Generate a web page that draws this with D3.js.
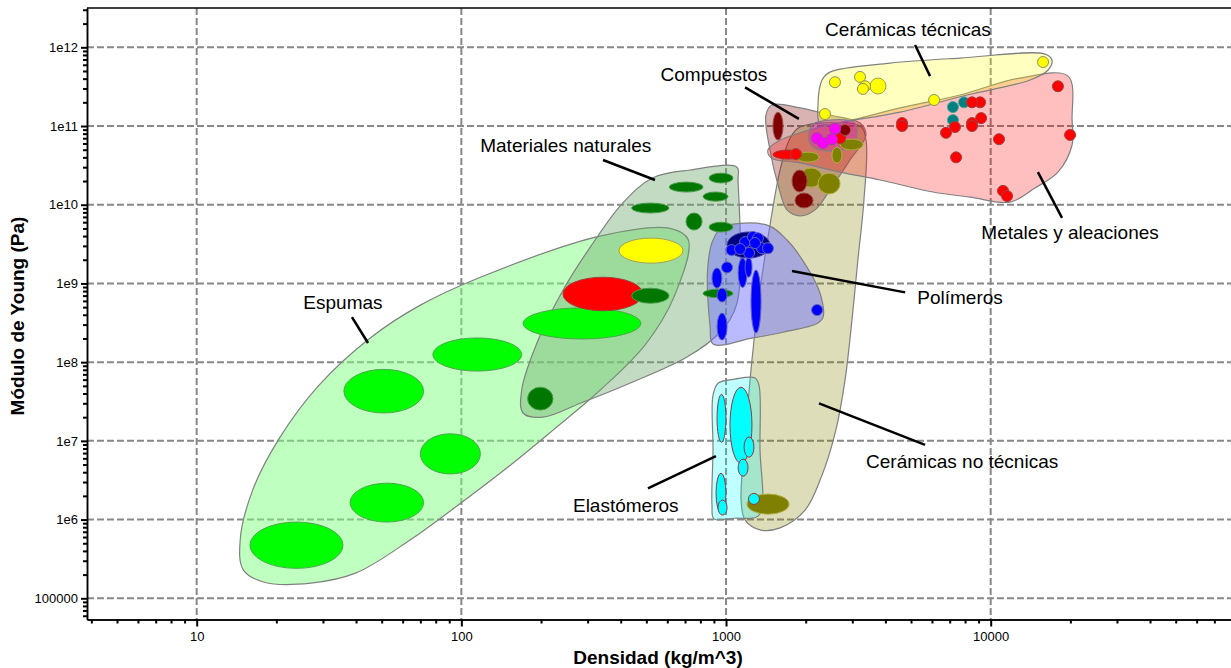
<!DOCTYPE html>
<html>
<head>
<meta charset="utf-8">
<script src="https://cdn.jsdelivr.net/npm/d3@7"></script>
<style>
  body { margin: 0; background: #fff; }
  svg { display: block; font-family: "Liberation Sans", Arial, sans-serif; }
  .grid line { stroke: #888; stroke-width: 2; stroke-dasharray: 7,3; }
  .envelope { stroke: #808080; stroke-width: 1.2; }
  .blob { stroke-width: 1; }
  .label { font-size: 19px; fill: #000; }
  .leader { stroke: #000; stroke-width: 2.5; }
  .axis-title { font-size: 19px; font-weight: bold; }
  .tick text { font-size: 13px; fill: #000; font-family: "Liberation Sans", Arial, sans-serif; }
  .tick line { stroke: #000; stroke-width: 2; }
  .domain { stroke: #000; stroke-width: 1.5; }
</style>
</head>
<body>
<div id="wrapper"></div>
<script>

// axis ticks
const densityTicks = [10, 100, 1000, 10000]
const densityTickLabels = ["10", "100", "1000", "10000"]
const modulusTicks = [1e5, 1e6, 1e7, 1e8, 1e9, 1e10, 1e11, 1e12]
const modulusTickLabels = ["100000", "1e6", "1e7", "1e8", "1e9", "1e10", "1e11", "1e12"]

// family envelopes: [density (kg/m^3), Young's modulus (Pa)]
const espumasEnvelope = [[720, 3.6e9], [615, 5.0e9], [334, 4.0e9], [118, 1.2e9], [70, 5.3e8], [45, 2.0e8], [29, 5.1e7], [20.6, 1.1e7], [16.3, 2.4e6], [14.6, 5.5e5], [15, 2.3e5], [18, 1.6e5], [27, 1.56e5], [40, 2.1e5], [64, 5.5e5], [99, 1.6e6], [153, 4.9e6], [222, 1.37e7], [334, 4.4e7], [494, 1.65e8], [640, 7.1e8]]
const naturalesEnvelope = [[1100, 3.0e10], [731, 2.76e10], [529, 2.2e10], [407, 1.05e10], [307, 2.9e9], [242, 8.2e8], [193, 1.75e8], [169, 4.4e7], [171, 2.26e7], [203, 2.0e7], [281, 3.0e7], [433, 5.4e7], [712, 1.16e8], [949, 2.4e8], [1100, 5.6e8], [1110, 2.06e10]]
const polimerosEnvelope = [[893, 3.56e9], [974, 5.2e9], [1430, 5.5e9], [1700, 3.56e9], [2025, 1.6e9], [2266, 7.5e8], [2325, 3.7e8], [2208, 3.1e8], [1640, 2.4e8], [1264, 2.03e8], [893, 1.7e8], [871, 2.8e8], [853, 1.6e9]]
const noTecnicasEnvelope = [[1905, 9.7e10], [3209, 1.0e11], [3380, 6.6e10], [3320, 1.15e10], [3150, 2.0e9], [2990, 3.4e8], [2816, 5.9e7], [2600, 1.37e7], [2305, 3.67e6], [1990, 1.32e6], [1600, 7.85e5], [1344, 7.4e5], [1180, 9.9e5], [1140, 1.77e6], [1180, 1.02e7], [1253, 1.06e8], [1344, 8.2e8], [1466, 5.5e9], [1600, 2.76e10], [1746, 7.0e10]]
const elastomerosEnvelope = [[893, 3.8e7], [933, 5.4e7], [1081, 6.1e7], [1287, 6.3e7], [1332, 5.1e7], [1344, 7.6e6], [1367, 1.32e6], [1298, 1.07e6], [1081, 1.04e6], [901, 1.02e6], [885, 1.53e6], [893, 7.6e6]]
const compuestosEnvelope = [[1490, 1.85e11], [1905, 1.7e11], [2470, 1.38e11], [3209, 1.09e11], [3380, 7.7e10], [2940, 3.7e10], [2470, 1.54e10], [2170, 8.6e9], [1905, 7.2e9], [1700, 8.6e9], [1573, 1.78e10], [1466, 4.96e10], [1415, 1.38e11]]
const metalesEnvelope = [[1440, 4.96e10], [1600, 6.6e10], [2266, 9.7e10], [3209, 1.26e11], [4546, 1.7e11], [7660, 2.48e11], [12900, 4.07e11], [19600, 4.3e11], [20300, 1.19e11], [20300, 5.74e10], [17950, 2.6e10], [14700, 1.63e10], [11840, 1.08e10], [8360, 1.25e10], [6050, 1.45e10], [3820, 2.06e10], [2700, 2.6e10], [1905, 3.4e10], [1490, 3.9e10]]
const tecnicasEnvelope = [[2305, 3.84e11], [2470, 4.84e11], [4170, 6.3e11], [7660, 7.3e11], [16050, 8.2e11], [17040, 6.9e11], [16480, 5.15e11], [14080, 3.84e11], [8145, 2.48e11], [4546, 1.5e11], [3018, 1.19e11], [2266, 1.09e11], [2226, 1.85e11]]
const magentaEnvelope = [[2113, 1.03e11], [2472, 1.19e11], [3070, 1.09e11], [3125, 7.7e10], [2990, 5.4e10], [2266, 4.96e10], [2070, 6.1e10]]

// material bubbles: [density min, density max, modulus min, modulus max]
const greenEllipses = [[15.9, 35.7, 2.4e5, 9.3e5], [38, 72, 9.3e5, 2.9e6], [70, 118, 3.8e6, 1.23e7], [36, 72, 2.26e7, 8.1e7], [78, 169, 7.7e7, 2.03e8], [171, 477, 1.97e8, 4.9e8]]
const redEllipses = [[242, 485, 4.5e8, 1.2e9], [1504, 1955, 3.8e10, 4.96e10]]
const yellowEllipses = [[394, 688, 1.81e9, 3.77e9], [3500, 4020, 2.55e11, 4.07e11]]
const darkGreenEllipses = [[178, 222, 2.46e7, 4.8e7], [440, 609, 5.6e8, 8.7e8], [610, 819, 1.45e10, 1.94e10], [863, 1062, 1.89e10, 2.52e10], [819, 1017, 1.11e10, 1.45e10], [440, 609, 7.85e9, 1.05e10], [706, 812, 4.77e9, 7.85e9], [863, 1062, 4.5e9, 6.0e9], [819, 1062, 6.6e8, 8.45e8]]
const navyEllipses = [[1009, 1466, 2.1e9, 4.5e9]]
const blueEllipses = [[885, 965, 8.7e8, 1.57e9], [925, 1009, 5.8e8, 8.7e8], [925, 1009, 1.91e8, 4.2e8], [1111, 1201, 8.9e8, 2.1e9], [1243, 1356, 2.34e8, 1.48e9], [1180, 1254, 1.2e9, 2.16e9]]
const cyanEllipses = [[925, 999, 9.6e6, 3.9e7], [1035, 1253, 5.2e6, 4.8e7], [1170, 1275, 6.2e6, 1.12e7], [1111, 1211, 3.56e6, 5.87e6], [917, 999, 1.21e6, 3.89e6], [933, 1009, 1.14e6, 1.77e6]]
const oliveEllipses = [[1201, 1730, 1.17e6, 2.11e6], [1854, 2246, 3.48e10, 4.66e10], [2513, 2744, 3.38e10, 5.4e10], [2697, 3293, 4.96e10, 6.84e10], [1905, 2305, 1.67e10, 2.93e10], [2226, 2697, 1.37e10, 2.52e10]]
const darkRedEllipses = [[1504, 1642, 6.64e10, 1.5e11], [1775, 2025, 1.45e10, 2.76e10], [1822, 2132, 9.1e9, 1.41e10]]

// single materials: [density, modulus]
const bluePoints = [[1050, 2.66e9], [1180, 3.35e9], [1264, 3.9e9], [1320, 3.75e9], [1367, 2.8e9], [1440, 2.8e9], [1222, 2.44e9], [1287, 3.26e9], [1130, 2.74e9], [1009, 1.6e9], [2208, 4.6e8]]
const cyanPoints = [[1275, 1.83e6]]
const yellowPoints = [[2580, 3.6e11], [3209, 4.2e11], [3350, 3.2e11], [3290, 2.96e11], [6110, 2.14e11], [2366, 1.42e11], [15770, 6.5e11]]
const tealPoints = [[7200, 1.74e11], [7930, 2.0e11], [7200, 1.19e11]]
const redPoints = [[17950, 3.2e11], [19950, 7.7e10], [10750, 6.8e10], [9120, 2.0e11], [8500, 2.0e11], [9200, 1.26e11], [8500, 1.09e11], [8500, 1.0e11], [7330, 9.7e10], [6780, 8.2e10], [7400, 4.0e10], [11130, 1.5e10], [11530, 1.29e10], [4625, 1.09e11], [4625, 1.0e11], [2700, 7.0e10], [1837, 4.4e10]]
const darkRedPoints = [[2816, 8.9e10]]
const magentaPoints = [[2580, 9.2e10], [2208, 7.0e10], [2325, 6.1e10], [2513, 6.8e10]]

// family labels and leader lines
const labelTexts = ["Cerámicas técnicas", "Compuestos", "Materiales naturales", "Espumas", "Polímeros", "Cerámicas no técnicas", "Elastómeros", "Metales y aleaciones"]
const labelAt = [[4870, 1.71e12], [900, 4.6e11], [248, 5.74e10], [35.7, 5.8e8], [7660, 6.7e8], [7800, 5.5e6], [418, 1.53e6], [19950, 4.5e9]]
const leaderFrom = [[5180, 1.07e12], [1180, 3.1e11], [343, 3.7e10], [38.6, 3.73e8], [1775, 1.44e9], [2246, 3.0e7], [507, 2.5e6], [15080, 2.6e10]]
const leaderTo = [[5900, 4.3e11], [1885, 1.23e11], [539, 2.06e10], [44.4, 1.75e8], [4750, 7.7e8], [5650, 8.9e6], [916, 6.4e6], [18600, 6.8e9]]

function drawChart() {

  // dimensions
  let dimensions = {
    width: 1231,
    height: 668,
    margin: { top: 8, right: 0, bottom: 48.5, left: 87 },
  }
  dimensions.boundedWidth = dimensions.width - dimensions.margin.left - dimensions.margin.right
  dimensions.boundedHeight = dimensions.height - dimensions.margin.top - dimensions.margin.bottom

  const wrapper = d3.select("#wrapper")
    .append("svg")
      .attr("width", dimensions.width)
      .attr("height", dimensions.height)

  const bounds = wrapper.append("g")
      .attr("transform", `translate(${dimensions.margin.left}, ${dimensions.margin.top})`)

  // scales
  const xScale = d3.scaleLog()
    .domain([3.851, 80900])
    .range([0, dimensions.boundedWidth])

  const yScale = d3.scaleLog()
    .domain([53770, 3.158e12])
    .range([dimensions.boundedHeight, 0])

  // grid
  const grid = bounds.append("g").attr("class", "grid")
  grid.selectAll(".h").data(modulusTicks).join("line")
      .attr("x1", 0).attr("x2", dimensions.boundedWidth + 10)
      .attr("y1", d => yScale(d)).attr("y2", d => yScale(d))
  grid.selectAll(".v").data(densityTicks).join("line")
      .attr("y1", 0).attr("y2", dimensions.boundedHeight)
      .attr("x1", d => xScale(d)).attr("x2", d => xScale(d))

  // envelopes
  const envelopeLine = d3.line()
    .x(d => xScale(d[0]))
    .y(d => yScale(d[1]))
    .curve(d3.curveCatmullRomClosed.alpha(0.5))

  const envelopes = [
    { pts: espumasEnvelope, fill: "rgba(128,255,128,0.5)" },
    { pts: naturalesEnvelope, fill: "rgba(110,170,110,0.42)" },
    { pts: noTecnicasEnvelope, fill: "rgba(128,128,0,0.27)" },
    { pts: polimerosEnvelope, fill: "rgba(110,110,255,0.48)" },
    { pts: elastomerosEnvelope, fill: "rgba(0,255,255,0.25)" },
    { pts: compuestosEnvelope, fill: "rgba(128,0,0,0.3)" },
    { pts: metalesEnvelope, fill: "rgba(255,0,0,0.25)" },
    { pts: tecnicasEnvelope, fill: "rgba(255,255,0,0.25)" },
    { pts: magentaEnvelope, fill: "rgba(230,0,230,0.3)" },
  ]

  bounds.append("g").selectAll("path")
    .data(envelopes)
    .join("path")
      .attr("class", "envelope")
      .attr("fill", d => d.fill)
      .attr("d", d => envelopeLine(d.pts))

  // bubbles
  const ellipseGroups = [
    { data: greenEllipses, fill: "#00ff00", stroke: "#4ca64c" },
    { data: redEllipses, fill: "#ff0000", stroke: "#a04040" },
    { data: yellowEllipses, fill: "#ffff00", stroke: "#a0a060" },
    { data: darkGreenEllipses, fill: "#007800", stroke: "#4c9a4c" },
    { data: navyEllipses, fill: "#000080", stroke: "#4040a0" },
    { data: blueEllipses, fill: "#0000ff", stroke: "#6060c0" },
    { data: cyanEllipses, fill: "#00ffff", stroke: "#993344" },
    { data: oliveEllipses, fill: "#808000", stroke: "#b0b040" },
    { data: darkRedEllipses, fill: "#800000", stroke: "#a05050" },
  ]

  ellipseGroups.forEach(group => {
    bounds.append("g").selectAll("ellipse")
      .data(group.data)
      .join("ellipse")
        .attr("class", "blob")
        .attr("fill", group.fill)
        .attr("stroke", group.stroke)
        .attr("cx", d => (xScale(d[0]) + xScale(d[1])) / 2)
        .attr("cy", d => (yScale(d[2]) + yScale(d[3])) / 2)
        .attr("rx", d => (xScale(d[1]) - xScale(d[0])) / 2)
        .attr("ry", d => (yScale(d[2]) - yScale(d[3])) / 2)
  })

  const pointGroups = [
    { data: bluePoints, fill: "#0000ff", stroke: "#6060c0" },
    { data: cyanPoints, fill: "#00ffff", stroke: "#993344" },
    { data: yellowPoints, fill: "#ffff00", stroke: "#909060" },
    { data: tealPoints, fill: "#008080", stroke: "#50a0a0" },
    { data: redPoints, fill: "#ff0000", stroke: "#a04040" },
    { data: darkRedPoints, fill: "#800000", stroke: "#a05050" },
    { data: magentaPoints, fill: "#ff00ff", stroke: "#a040a0" },
  ]

  pointGroups.forEach(group => {
    bounds.append("g").selectAll("circle")
      .data(group.data)
      .join("circle")
        .attr("class", "blob")
        .attr("fill", group.fill)
        .attr("stroke", group.stroke)
        .attr("cx", d => xScale(d[0]))
        .attr("cy", d => yScale(d[1]))
        .attr("r", 5.5)
  })

  // labels
  const labels = bounds.append("g")
  labels.selectAll("line")
    .data(labelTexts)
    .join("line")
      .attr("class", "leader")
      .attr("x1", (d, i) => xScale(leaderFrom[i][0]))
      .attr("y1", (d, i) => yScale(leaderFrom[i][1]))
      .attr("x2", (d, i) => xScale(leaderTo[i][0]))
      .attr("y2", (d, i) => yScale(leaderTo[i][1]))
  labels.selectAll("text")
    .data(labelTexts)
    .join("text")
      .attr("class", "label")
      .attr("x", (d, i) => xScale(labelAt[i][0]))
      .attr("y", (d, i) => yScale(labelAt[i][1]))
      .attr("text-anchor", "middle")
      .attr("dy", "0.35em")
      .text(d => d)

  // axes
  const yMinor = yScale.ticks().filter(t => !modulusTicks.includes(t))
  const xMinor = xScale.ticks().filter(t => !densityTicks.includes(t) && t < 75000)

  bounds.append("g")
    .call(d3.axisLeft(yScale).tickValues(yMinor).tickSize(4).tickSizeOuter(0).tickFormat(""))
  bounds.append("g")
    .call(d3.axisLeft(yScale).tickValues(modulusTicks).tickSize(6).tickSizeOuter(0).tickPadding(3)
      .tickFormat((d, i) => modulusTickLabels[i]))

  const xAxisMinor = bounds.append("g")
      .attr("transform", `translate(0, ${dimensions.boundedHeight})`)
    .call(d3.axisBottom(xScale).tickValues(xMinor).tickSize(4).tickSizeOuter(0).tickFormat(""))
  const xAxis = bounds.append("g")
      .attr("transform", `translate(0, ${dimensions.boundedHeight})`)
    .call(d3.axisBottom(xScale).tickValues(densityTicks).tickSize(7).tickSizeOuter(0).tickPadding(5.5)
      .tickFormat((d, i) => densityTickLabels[i]))

  // top frame line
  bounds.append("line")
      .attr("x1", 0).attr("x2", dimensions.boundedWidth)
      .attr("y1", 0).attr("y2", 0)
      .attr("stroke", "#000").attr("stroke-width", 1.5)

  wrapper.append("text")
      .attr("class", "axis-title")
      .attr("x", 658)
      .attr("y", 664)
      .attr("text-anchor", "middle")
      .text("Densidad (kg/m^3)")

  wrapper.append("text")
      .attr("class", "axis-title")
      .attr("transform", "translate(24, 316) rotate(-90)")
      .attr("text-anchor", "middle")
      .text("Módulo de Young (Pa)")
}
drawChart()
</script>
</body>
</html>
